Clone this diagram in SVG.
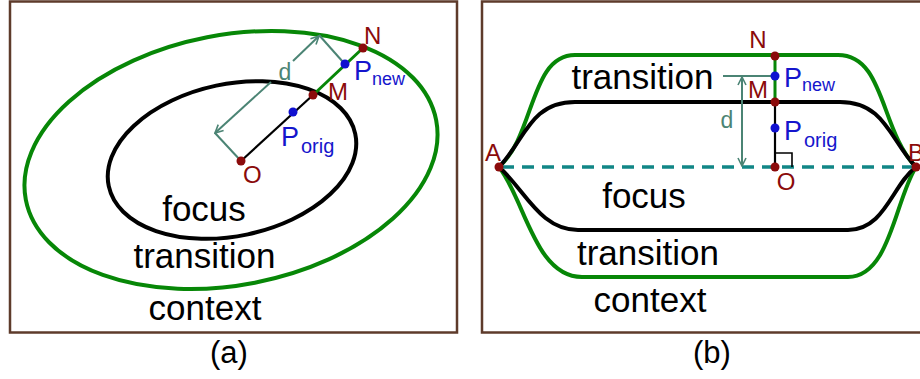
<svg xmlns="http://www.w3.org/2000/svg" width="920" height="379" viewBox="0 0 920 379">
<defs>
<style>
.frame{fill:none;stroke:#5e3b2b;stroke-width:2.5}
.green{fill:none;stroke:#078707;stroke-width:4}
.black{fill:none;stroke:#000;stroke-width:4}
.seg-k{stroke:#000;stroke-width:2.2}
.seg-g{stroke:#078707;stroke-width:3}
.dim{fill:none;stroke:#4b8474;stroke-width:2}
.dash{stroke:#118686;stroke-width:3.5;stroke-dasharray:12 8}
.pt-r{fill:#8b0b0b}
.pt-b{fill:#1010d0}
.lbl{font-family:"Liberation Sans",Arial,sans-serif;font-size:24px;fill:#8b0b0b}
.plbl{font-family:"Liberation Sans",Arial,sans-serif;fill:#1515cc}
.big{font-family:"Liberation Sans",Arial,sans-serif;font-size:35px;fill:#000;text-anchor:middle}
.cap{font-family:"Liberation Sans",Arial,sans-serif;font-size:31px;fill:#000;text-anchor:middle}
.dtxt{font-family:"Liberation Sans",Arial,sans-serif;font-size:23px;fill:#4b8474;text-anchor:middle}
</style>
<marker id="arr" viewBox="0 0 10 10" refX="9" refY="5" markerWidth="10" markerHeight="10" markerUnits="userSpaceOnUse" orient="auto-start-reverse">
<path d="M1,1 L9,5 L1,9" fill="none" stroke="#4b8474" stroke-width="1.6"/>
</marker>
</defs>

<!-- Panel (a) -->
<g id="panel-a">
<rect class="frame" x="10" y="1.5" width="447" height="331"/>
<g id="a-context"><ellipse class="green" cx="231" cy="160" rx="209" ry="125" transform="rotate(-11 231 160)"/></g>
<g id="a-focus"><ellipse class="black" cx="232" cy="160" rx="126" ry="76" transform="rotate(-12 232 160)"/></g>
<g id="a-connectors">
<line class="seg-k" x1="241" y1="161" x2="313" y2="95"/>
<line class="seg-g" x1="313" y1="95" x2="363" y2="48"/>
<line class="dim" x1="241" y1="161" x2="215" y2="133"/>
<line class="dim" x1="319" y1="35" x2="343" y2="62"/>
<line class="dim" x1="271" y1="82" x2="215" y2="133" marker-end="url(#arr)"/>
<line class="dim" x1="293" y1="61" x2="319" y2="36" marker-end="url(#arr)"/>
</g>
<text class="dtxt" x="285" y="80">d</text>
<g id="a-O"><circle class="pt-r" cx="241" cy="161" r="4.5"/><text class="lbl" x="243" y="183">O</text></g>
<g id="a-M"><circle class="pt-r" cx="313" cy="95" r="4.5"/><text class="lbl" x="328" y="100">M</text></g>
<g id="a-N"><circle class="pt-r" cx="363" cy="48" r="4.5"/><text class="lbl" x="364" y="44">N</text></g>
<g id="a-Porig"><circle class="pt-b" cx="293" cy="112" r="4.5"/><text class="plbl" x="281" y="146" font-size="27">P</text><text class="plbl" x="301" y="153" font-size="20">orig</text></g>
<g id="a-Pnew"><circle class="pt-b" cx="345" cy="64" r="4.5"/><text class="plbl" x="354" y="80" font-size="27">P</text><text class="plbl" x="372" y="85" font-size="18">new</text></g>
<text class="big" x="204" y="221">focus</text>
<text class="big" x="204.5" y="268">transition</text>
<text class="big" x="205" y="320">context</text>
<text class="cap" x="229" y="363">(a)</text>
</g>

<!-- Panel (b) -->
<g id="panel-b">
<rect class="frame" x="482" y="1.5" width="450" height="331"/>
<g id="b-context">
<path class="green" d="M499,167 C535,135 530,55 575,55 L838,55 C885,55 880,130 916,167 C895,200 890,277 848,277 L582,277 C535,277 525,200 499,167 Z"/>
</g>
<g id="b-focus">
<path class="black" d="M499,167 C525,140 530,102 575,102 L840,102 C885,102 890,140 916,167 C892,185 885,230 848,230 L578,230 C540,230 525,190 499,167 Z"/>
</g>
<g id="b-connectors">
<line class="dash" x1="502" y1="167" x2="914" y2="167"/>
<line class="seg-k" x1="775" y1="167" x2="775" y2="102"/>
<line class="seg-g" x1="775" y1="102" x2="775" y2="56"/>
<polyline points="775,153 792,153 792,167" fill="none" stroke="#000" stroke-width="1.6"/>
<line class="dim" x1="723" y1="76" x2="775" y2="76"/>
<line class="dim" x1="742" y1="121" x2="742" y2="77" marker-end="url(#arr)"/>
<line class="dim" x1="742" y1="121" x2="742" y2="166" marker-end="url(#arr)"/>
</g>
<text class="dtxt" x="727" y="128" font-size="22">d</text>
<g id="b-A"><circle class="pt-r" cx="499" cy="167" r="4.5"/><text class="lbl" x="493" y="161" text-anchor="middle">A</text></g>
<g id="b-B"><circle class="pt-r" cx="916" cy="167" r="4.5"/><text class="lbl" x="908" y="161">B</text></g>
<g id="b-O"><circle class="pt-r" cx="775" cy="167" r="4.5"/><text class="lbl" x="786" y="190" text-anchor="middle">O</text></g>
<g id="b-M"><circle class="pt-r" cx="775" cy="102" r="4.5"/><text class="lbl" x="758" y="98" text-anchor="middle">M</text></g>
<g id="b-N"><circle class="pt-r" cx="775" cy="56" r="4.5"/><text class="lbl" x="758" y="48" text-anchor="middle">N</text></g>
<g id="b-Pnew"><circle class="pt-b" cx="775" cy="76" r="4.5"/><text class="plbl" x="784" y="87" font-size="27">P</text><text class="plbl" x="802" y="91" font-size="18">new</text></g>
<g id="b-Porig"><circle class="pt-b" cx="775" cy="128" r="4.5"/><text class="plbl" x="784" y="140" font-size="27">P</text><text class="plbl" x="804" y="147" font-size="20">orig</text></g>
<text class="big" x="642.5" y="89">transition</text>
<text class="big" x="644" y="208">focus</text>
<text class="big" x="648" y="265">transition</text>
<text class="big" x="650" y="312">context</text>
<text class="cap" x="712" y="363">(b)</text>
</g>
</svg>
